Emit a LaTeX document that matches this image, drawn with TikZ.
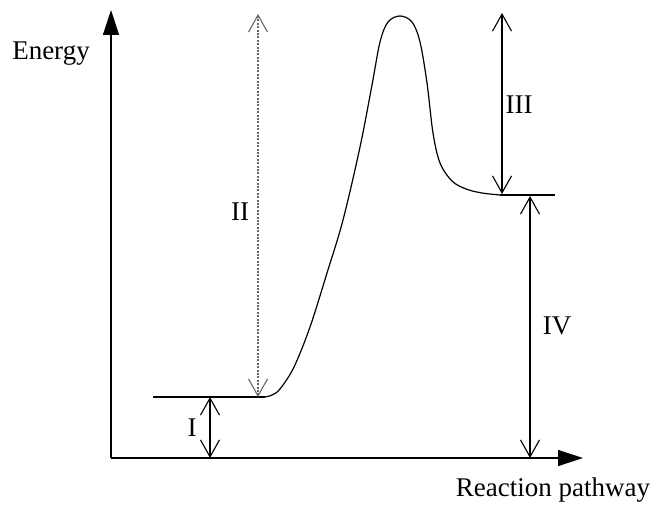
\documentclass[tikz,border=0pt]{standalone}
\usepackage{fontspec}
\setmainfont{Liberation Serif}
\usetikzlibrary{arrows.meta}

\begin{document}
\begin{tikzpicture}[
x={(0.5pt,0pt)}, y={(0pt,-0.5pt)},
% #region Picture settings %
axis/.style={line width=0.6pt, -{Triangle[length=12.5pt, width=8pt]}},
gap/.style={line width=0.55pt, {Straight Barb[length=8.5pt, width=9.5pt]}-{Straight Barb[length=8.5pt, width=9.5pt]}},
gapdots/.style={gap, gray!80!black, dash pattern=on 1pt off 0.7pt},
level/.style={line width=0.6pt},
lbl/.style={font=\fontsize{13.5}{16}\selectfont},
% #endregion Picture settings %
]
\useasboundingbox (0,0) rectangle (657,508);

\coordinate (O) at (111,458);
\coordinate (ytip) at (111,10);
\coordinate (xtip) at (583,458);
\coordinate (react0) at (153,397);
\coordinate (react1) at (265,397);
\coordinate (prod0) at (500,195);
\coordinate (prod1) at (555,195);

\draw[axis] (O) -- (ytip);
\draw[axis] (O) -- (xtip);
\node[lbl, anchor=base] (energy) at (51,60) {Energy};
\node[lbl, anchor=base] (pathway) at (553,496) {Reaction pathway};

\draw[level] (react0) -- (react1);
\draw[level] plot[smooth, tension=0.55] coordinates {(265,397) (272,395) (280,389) (294,367) (310,327) (327,273) (343,220) (360,147) (372,85) (380,42) (388,22) (400,16) (412,22) (420,42) (427,83) (433,133) (440,163) (452,181) (466,189) (482,193) (500,195)};
\draw[level] (prod0) -- (prod1);

\coordinate (Ibot) at (210,458);
\coordinate (Itop) at (210,397);
\coordinate (IIbot) at (258,397);
\coordinate (IItop) at (258,14);
\coordinate (IIIbot) at (502,194);
\coordinate (IIItop) at (502,13);
\coordinate (IVbot) at (530,458);
\coordinate (IVtop) at (530,196);

\draw[gap] (Ibot) -- (Itop);
\draw[gapdots] (IIbot) -- (IItop);
\draw[gap] (IIIbot) -- (IIItop);
\draw[gap] (IVbot) -- (IVtop);

\node[lbl] (labI) at (192,428) {I};
\node[lbl] (labII) at (240,212) {II};
\node[lbl] (labIII) at (519,105) {III};
\node[lbl] (labIV) at (557,326) {IV};

\end{tikzpicture}
\end{document}
